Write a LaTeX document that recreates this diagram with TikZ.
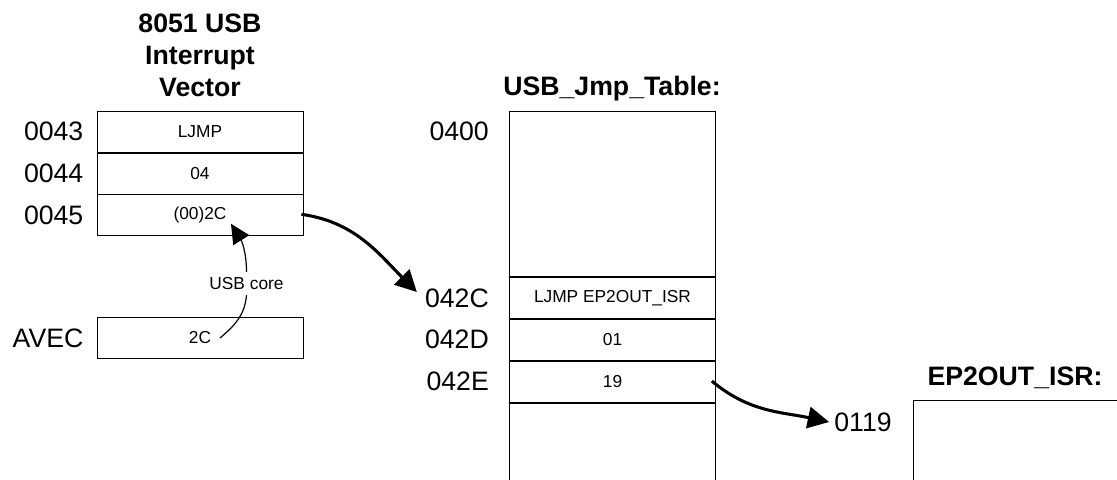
\documentclass[tikz,border=0pt]{standalone}
\usepackage{fontspec}
\setmainfont{Liberation Sans}
\usepackage{tikz}
\usetikzlibrary{arrows.meta,positioning,calc}
\tikzset{
  cell/.style={draw,line width=0.6pt,minimum width=154.5pt,minimum height=30.75pt,
    inner sep=0pt,font=\fontsize{13}{15}\selectfont},
  addr/.style={inner sep=0pt,font=\fontsize{20}{23}\selectfont},
  heading/.style={inner sep=0pt,align=center,font=\bfseries\fontsize{20}{24}\selectfont},
  jumparrow/.style={-{Triangle[length=16pt,width=16pt]},line width=2.3pt},
  corearrow/.style={-{Triangle[length=14.5pt,width=14pt]},line width=0.9pt}
}
\begin{document}
\begin{tikzpicture}[x=0.75pt,y=0.75pt,node distance=0pt]
\useasboundingbox (0,0) rectangle (1117,-479);
\clip (0,0) rectangle (1117,-479);
% interrupt vector
\node[heading,anchor=south] (vtitle) at (200,-97.5) {8051 USB\\Interrupt\\Vector};
\node[cell] (v43) at (200,-131.7) {LJMP};
\node[cell,below=of v43] (v44) {04};
\node[cell,below=of v44] (v45) {(00)2C};
\node[cell] (avec) at (200,-338) {2C};
\node[addr,left=9.75pt of v43] (a43) {0043};
\node[addr,left=9.75pt of v44] (a44) {0044};
\node[addr,left=9.75pt of v45] (a45) {0045};
\node[addr,left=9.75pt of avec] (aavec) {AVEC};
% jump table
\node[heading,anchor=base] (ttitle) at (612,-95) {USB\_Jmp\_Table:};
\node[cell,minimum height=123.75pt] (t00) at (612.5,-194.2) {};
\node[cell,below=of t00] (t2C) {LJMP EP2OUT\_ISR};
\node[cell,below=of t2C] (t2D) {01};
\node[cell,below=of t2D] (t2E) {19};
\node[cell,below=of t2E,minimum height=75pt] (trest) {};
\node[addr,left=15pt of t2C] (a2C) {042C};
\node[addr,left=15pt of t2D] (a2D) {042D};
\node[addr,left=15pt of t2E] (a2E) {042E};
\node[addr,anchor=east] (a00) at (a2C.east |- v43) {0400};
% isr
\node[heading,anchor=base] (ititle) at (1015,-385) {EP2OUT\_ISR:};
\node[cell,minimum width=225pt,minimum height=112pt,anchor=north west] (isr) at (913,-400) {};
\node[addr,anchor=east] (a119) at ($(isr.north west)+(-21,-22)$) {0119};
% arrows
\node[inner sep=4pt,font=\fontsize{13}{15}\selectfont] (core) at (246.5,-283.5) {USB core};
\draw[line width=0.9pt] ($(avec.center)+(20,0)$) to[out=40,in=-95] (core.south);
\draw[corearrow] (core.north) to[out=90,in=-58] ($(v45.center)+(31,-8.5)$);
\draw[jumparrow] ($(v45.east)+(-2,1)$) to[out=-8,in=135] ($(a2C.west)+(-8,6)$);
\draw[jumparrow] ($(t2E.east)+(-4,0.5)$) to[out=-40,in=168] ($(a119.west)+(-5,0)$);
\end{tikzpicture}
\end{document}
